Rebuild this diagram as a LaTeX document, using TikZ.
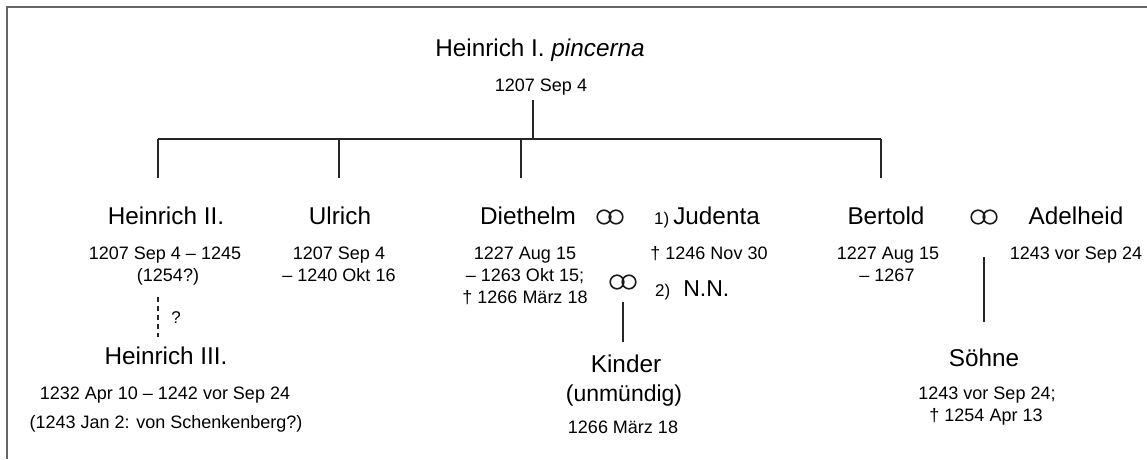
\documentclass[tikz,border=0pt]{standalone}
\usepackage{fontspec}
\setmainfont{Liberation Sans}
\begin{document}
\begin{tikzpicture}[x=1pt,y=-1pt,
  pname/.style={font=\fontsize{24.3}{28}\selectfont, anchor=base, inner sep=0pt},
  pdate/.style={font=\fontsize{18}{22}\selectfont, anchor=base, inner sep=0pt},
  link/.style={line width=1.4pt, black!85},
  frame/.style={line width=2pt, black!60},
  ringline/.style={line width=1.6pt, black!90},
  marriage/.pic={\draw[ringline] (-6,0) circle (6.8pt) (6,0) circle (6.8pt);}]
\useasboundingbox (0,0) rectangle (1147,459);
\draw[frame] (7,459) -- (7,7) -- (1147,7);

% Heinrich I.
\node[pname] (h1) at (540,56.5) {Heinrich I. \textit{pincerna}};
\node[pdate] (h1d) at (541,91) {1207 Sep 4};
\coordinate (h1s) at (533,100);
\coordinate (bus) at (533,139);
\coordinate (bl) at (158,139);
\coordinate (br) at (881,139);
\coordinate (ub) at (339,139);
\coordinate (db) at (521,139);
\coordinate (h2t) at (158,178);
\coordinate (ut) at (339,178);
\coordinate (dt) at (521,178);
\coordinate (bt) at (881,178);
\draw[link] (h1s) -- (bus);
\draw[link] (bl) -- (br);
\draw[link] (bl) -- (h2t);
\draw[link] (ub) -- (ut);
\draw[link] (db) -- (dt);
\draw[link] (br) -- (bt);

% Heinrich II.
\node[pname] (h2) at (166,224) {Heinrich II.};
\node[pdate] (h2d1) at (165,259.5) {1207 Sep 4 – 1245};
\node[pdate] (h2d2) at (168,281.5) {(1254?)};
\coordinate (h2q1) at (158,297);
\coordinate (h2q2) at (158,337);
\draw[link, dash pattern=on 5pt off 4pt] (h2q1) -- (h2q2);
\node[pdate, font=\fontsize{17}{20}\selectfont] (q) at (176,323) {?};

% Heinrich III.
\node[pname] (h3) at (166,364) {Heinrich III.};
\node[pdate] (h3d1) at (165,399.5) {1232 Apr 10 – 1242 vor Sep 24};
\node[pdate] (h3d2) at (166,428.5) {(1243 Jan 2: von Schenkenberg?)};

% Ulrich
\node[pname] (ul) at (340,224) {Ulrich};
\node[pdate] (uld1) at (339,259.5) {1207 Sep 4};
\node[pdate] (uld2) at (339,281.5) {– 1240 Okt 16};

% Diethelm
\node[pname] (di) at (528,224) {Diethelm};
\node[pdate] (did1) at (525,259.5) {1227 Aug 15};
\node[pdate] (did2) at (525,281.5) {– 1263 Okt 15;};
\node[pdate] (did3) at (525,303.5) {† 1266 März 18};
\pic (r1) at (610,217) {marriage};
\node[pname, anchor=base west] (ju) at (654,224) {{\fontsize{17}{20}\selectfont 1)}\hspace{4pt}Judenta};
\node[pdate] (jud) at (709,259.5) {† 1246 Nov 30};
\pic (r2) at (623,282) {marriage};
\node[pname, anchor=base west, font=\fontsize{23}{27}\selectfont] (nn) at (655,296.5) {{\fontsize{17}{20}\selectfont 2)}\hspace{13pt}N.N.};
\coordinate (kt) at (623,302);
\coordinate (kb) at (623,342);
\draw[link] (kt) -- (kb);
\node[pname] (ki) at (626,372) {Kinder};
\node[pname, font=\fontsize{23}{27}\selectfont] (kid1) at (624,401.5) {(unmündig)};
\node[pdate] (kid2) at (623,433.5) {1266 März 18};

% Bertold
\node[pname] (be) at (886,224) {Bertold};
\node[pdate] (bed1) at (888,259.5) {1227 Aug 15};
\node[pdate] (bed2) at (887,281.5) {– 1267};
\pic (r3) at (984,217) {marriage};
\node[pname] (ad) at (1076,224) {Adelheid};
\node[pdate] (add) at (1076,259.5) {1243 vor Sep 24};
\coordinate (st) at (984,257);
\coordinate (sb) at (984,322);
\draw[link] (st) -- (sb);
\node[pname] (so) at (984,366) {Söhne};
\node[pdate] (sod1) at (987,399.5) {1243 vor Sep 24;};
\node[pdate] (sod2) at (986,421.5) {† 1254 Apr 13};
\end{tikzpicture}
\end{document}
